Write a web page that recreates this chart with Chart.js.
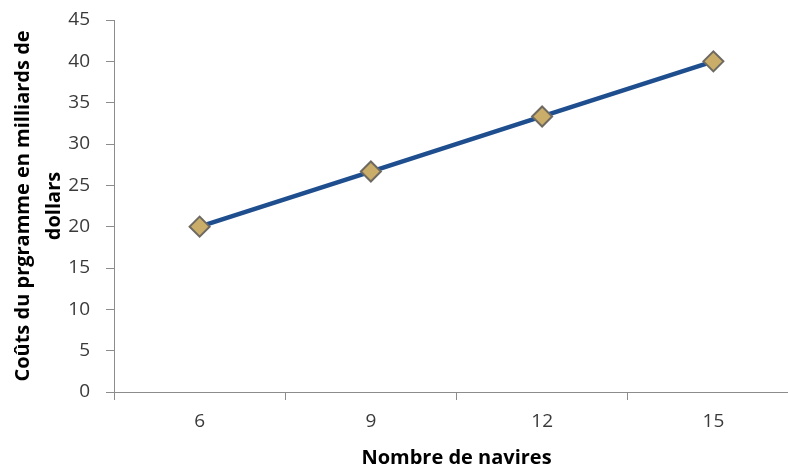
<!DOCTYPE html>
<html>
<head>
<meta charset="utf-8">
<script src="https://cdn.jsdelivr.net/npm/chart.js@4/dist/chart.umd.min.js"></script>
<style>
  html, body { margin: 0; padding: 0; background: #ffffff; overflow: hidden; }
  #wrap { width: 810px; height: 468px; }
</style>
</head>
<body>
<div id="wrap"><canvas id="c" width="810" height="468"></canvas></div>
<script>
// Number of ships and programme cost (billions of dollars)
const categories = ['6', '9', '12', '15'];
const costs = [20, 26.67, 33.33, 40];
const yTicks = [0, 5, 10, 15, 20, 25, 30, 35, 40, 45];

const axisColor = '#8c8c8c';
const tickFont = { family: 'Open Sans', size: 19 };

new Chart(document.getElementById('c'), {
  type: 'line',
  data: {
    labels: categories,
    datasets: [{
      data: costs,
      borderColor: '#1f4e8f',
      borderWidth: 4.5,
      pointStyle: 'rectRot',
      pointRadius: 10,
      pointHoverRadius: 10,
      pointBackgroundColor: '#c9ad69',
      pointBorderColor: '#6e6a62',
      pointBorderWidth: 2,
      tension: 0
    }]
  },
  options: {
    responsive: false,
    animation: false,
    layout: { autoPadding: false, padding: { top: 20, right: 11, left: 0, bottom: 0 } },
    plugins: { legend: { display: false }, tooltip: { enabled: false } },
    scales: {
      x: {
        offset: true,
        grid: { display: true, drawOnChartArea: false, drawTicks: true, tickLength: 8, color: axisColor, offset: true },
        border: { display: true, color: axisColor, width: 1 },
        ticks: { color: '#3a3a3a', font: tickFont, padding: 10 },
        title: {
          display: true,
          text: 'Nombre de navires',
          color: '#000',
          font: { family: 'Open Sans', size: 20, weight: 'bold', lineHeight: 1.0 },
          padding: { top: 0, bottom: 0 }
        },
        afterFit(scale) { scale.height = 76; }
      },
      y: {
        min: 0,
        max: 45,
        afterBuildTicks(scale) { scale.ticks = yTicks.map(v => ({ value: v })); },
        grid: { display: true, drawOnChartArea: false, drawTicks: true, tickLength: 8, color: axisColor },
        border: { display: true, color: axisColor, width: 1 },
        ticks: { color: '#3a3a3a', font: tickFont, padding: 16 },
        title: {
          display: true,
          text: ['Coûts du prgramme en milliards de', 'dollars'],
          color: '#000',
          font: { family: 'Open Sans', size: 20, weight: 'bold', lineHeight: 1.55 },
          padding: { top: 7.5, bottom: 0 }
        },
        afterFit(scale) {
          scale.width = 114;
          // only the half-height of the end labels needs room above/below the plot
          scale.paddingTop = 12;
          scale.paddingBottom = 12;
        }
      }
    }
  }
});
</script>
</body>
</html>
